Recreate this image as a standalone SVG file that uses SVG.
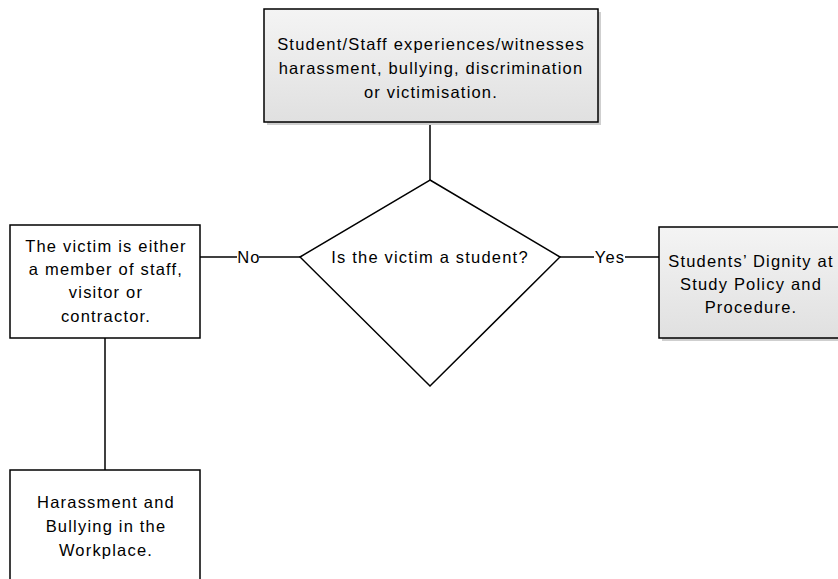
<svg xmlns="http://www.w3.org/2000/svg" width="838" height="579" viewBox="0 0 838 579">
<defs>
<linearGradient id="g" x1="0" y1="0" x2="0" y2="1">
<stop offset="0" stop-color="#f4f4f4"/>
<stop offset="1" stop-color="#e0e0e0"/>
</linearGradient>
</defs>
<style>
.box{stroke:#000;stroke-width:1.5}
.shadow{fill:#cfcfcf}
.t{font-family:"Liberation Sans",Arial,sans-serif;font-size:16.5px;letter-spacing:1.2px;fill:#000;text-anchor:middle}
.c{stroke:#000;stroke-width:1.5;fill:none}
</style>
<g id="connectors">
<line class="c" x1="430" y1="122" x2="430" y2="180"/>
<line class="c" x1="200" y1="257" x2="237" y2="257"/>
<line class="c" x1="259" y1="257" x2="300" y2="257"/>
<line class="c" x1="560" y1="257" x2="594" y2="257"/>
<line class="c" x1="625" y1="257" x2="659" y2="257"/>
<line class="c" x1="105" y1="338" x2="105" y2="470"/>
<text class="t" x="249" y="263">No</text>
<text class="t" x="610" y="263">Yes</text>
</g>
<g id="start">
<rect class="shadow" x="267" y="12" width="334" height="113"/>
<rect class="box" x="264" y="9" width="334" height="113" fill="url(#g)"/>
<text class="t" x="431" y="50">Student/Staff experiences/witnesses</text>
<text class="t" x="431" y="74">harassment, bullying, discrimination</text>
<text class="t" x="431" y="98">or victimisation.</text>
</g>
<g id="decision">
<polygon class="box" fill="#fff" points="430,180 560,257 430,386 300,257"/>
<text class="t" x="430" y="263">Is the victim a student?</text>
</g>
<g id="staff">
<rect class="box" fill="#fff" x="10" y="225" width="190" height="113"/>
<text class="t" x="106" y="252">The victim is either</text>
<text class="t" x="106" y="275">a member of staff,</text>
<text class="t" x="106" y="298">visitor or</text>
<text class="t" x="106" y="322">contractor.</text>
</g>
<g id="student">
<rect class="shadow" x="662" y="230" width="190" height="111"/>
<rect class="box" x="659" y="227" width="190" height="111" fill="url(#g)"/>
<text class="t" x="751" y="267">Students’ Dignity at</text>
<text class="t" x="751" y="290">Study Policy and</text>
<text class="t" x="751" y="313">Procedure.</text>
</g>
<g id="workplace">
<rect class="box" fill="#fff" x="10" y="470" width="190" height="120"/>
<text class="t" x="106" y="508">Harassment and</text>
<text class="t" x="106" y="532">Bullying in the</text>
<text class="t" x="106" y="556">Workplace.</text>
</g>
</svg>
